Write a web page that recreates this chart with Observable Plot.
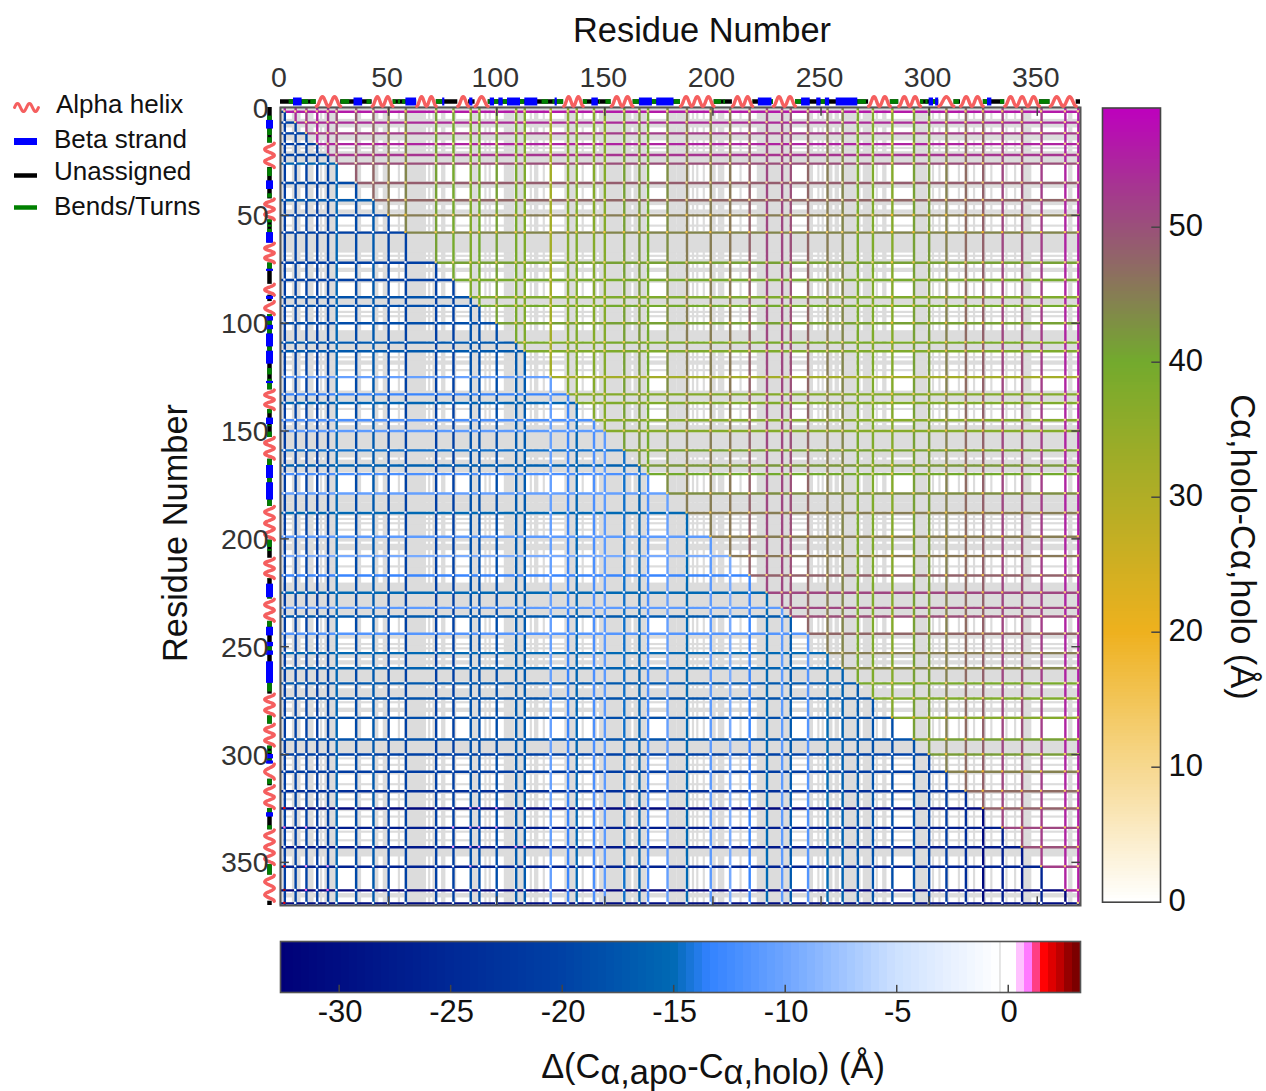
<!DOCTYPE html>
<html>
<head>
<meta charset="utf-8">
<script src="https://cdn.jsdelivr.net/npm/d3@7"></script>
<script src="https://cdn.jsdelivr.net/npm/@observablehq/plot@0.6"></script>
<style>
html,body{margin:0;padding:0;background:#fff;}
#root{position:relative;width:1266px;height:1091px;overflow:hidden;font-family:"Liberation Sans",Arial,sans-serif;color:#111;}
#root>div,#root>svg{position:absolute;}
.t{white-space:nowrap;line-height:1;}
sub{font-size:1em;vertical-align:baseline;position:relative;top:0.16em;line-height:0;}
.lg{font-size:26px;}
</style>
</head>
<body>
<div id="root"></div>
<script>
// ---------- data ----------
const keyResidues = [2,7,12,17,22,26,35,43,50,58,72,80,88,92,100,109,113,125,133,137,145,150,159,166,170,179,188,199,208,217,225,232,236,244,253,260,267,274,283,293,300,308,317,325,334,343,352,363,369];
const holoValues  = [56,54,52,55,53,50,48.5,47.5,45,44,41,39.5,38,40,41,39,38,32,37,38,37,37,41,42,40,43,45,45,45.5,48,51,51,50,47.5,45,44,39,38,37,41,41.5,44.5,47,48,51,50,52,55,56];
const deltaValues = [-21,-20,-20,-21,-20,-15.5,-19,-17,-20,-20,-20.5,-20.5,-18,-18.5,-18.5,-17,-17,-10.5,-13,-15.5,-12,-11,-14.5,-16,-12,-10.5,-15,-11,-9.5,-13,-15,-11,-17,-11.5,-15,-16,-17,-18,-18.5,-18,-20,-21,-24,-31,-27,-28,-26,-32,-30];
const crossValues = [10,10,12,10,10,6,5,6,16,18,12,10,14,14,15,14,14,8,12,12,8,14,15,10,10,12,14,16,14,12,12,10,10,8,8,8,8,10,20,18,15,18,16,20,18,18,14,12,12];
// positive Δ at a few crossings: row, column, value
const positiveCrossings = [[325,2,1.7],[325,88,0.7],[325,92,0.7],[325,100,0.7],[334,2,1],[334,12,0.7],[334,80,0.7],[334,88,0.7],[334,92,0.7],[334,100,0.7],[343,80,0.7],[343,88,0.7],[343,92,0.7],[343,109,0.7],[343,113,0.7],[352,2,1.7],[352,12,0.7],[352,22,0.7],[352,88,0.7],[363,2,2.6],[363,12,1],[363,22,1],[369,2,1.9]];
// residues with a grey band, start and end
const greyBands = [[0,1],[6,9],[13,15],[19,19],[21,26],[35,37],[43,45],[48,49],[55,55],[58,67],[69,69],[71,72],[75,76],[80,81],[89,91],[95,95],[97,97],[104,108],[110,113],[116,116],[118,119],[122,122],[132,133],[134,136],[140,140],[145,146],[148,149],[150,158],[160,162],[164,165],[167,169],[180,183],[184,187],[189,189],[191,191],[193,193],[196,196],[200,201],[203,205],[208,208],[213,213],[221,224],[225,231],[232,235],[245,246],[249,249],[251,251],[254,255],[257,258],[260,266],[268,268],[270,273],[276,276],[279,280],[283,283],[294,299],[302,302],[305,305],[309,309],[314,314],[318,318],[321,321],[326,326],[329,329],[336,336],[340,340],[344,347],[365,366]];
// secondary structure, start and end residue
const helices = [[16.6,27.8],[42.4,52],[63,72],[82,87],[90,96],[131,140],[153,163],[185,200.5],[209,218.4],[228,238.2],[272,282],[286,296],[304.5,311.4],[314.5,325],[335,351],[356,368]];
const strands = [[6,10],[34,38],[58,63],[75,76],[87.5,89],[97,99],[101,103],[105,111],[113,119],[127,128],[144,147],[166,172],[174,182],[221,227.3],[241,245],[248,250],[252,254],[257,267],[300,302],[303,304.5],[327,329]];
const turns = [[4,6],[10,13],[14,16.6],[28,32],[40,42],[52,53.5],[54.5,55.5],[56.5,58],[72,75],[96,97],[99,101],[103,105],[111,113],[121,124],[126,127],[128,131],[140,142],[147.5,148],[150.5,153],[163,166],[172,174],[182,185],[200.5,204],[205,205.8],[218.4,218.6],[227.3,228],[238.2,241],[250,252],[267,271],[282,286],[296,297.5],[298.5,299.5],[302,303],[311.4,314],[325,327],[333,335],[351,356]];
const wholeChain = [[0,370]];
const residueTicks = [0,50,100,150,200,250,300,350];
const holoTicks = [0,10,20,30,40,50];
const deltaTicks = [-30,-25,-20,-15,-10,-5,0];
const holoStops = [0,20,40,58.83];
const holoColors = ["#ffffff","#eeb11e","#73aa2d","#be00be"];
const deltaStops = [-32.63,-25,-20,-15,-13.4,-10,-5,-0.36,0.36,0.54,0.9,1.26,1.62,2.0,2.34,2.7,3.24];
const deltaColors = ["#000078","#002896","#0041a5","#0069b4","#3282ff","#6ea5ff","#cde1ff","#ffffff","#ffffff","#ffbeff","#ff78ff","#ff3c82","#ff0000","#dc0000","#be0000","#960000","#6e0000"];
const legendItems = ["Alpha helix","Beta strand","Unassigned","Bends/Turns"];

// ---------- helpers ----------
const FONT = '"Liberation Sans",Arial,sans-serif';
const holoColor = d3.scaleLinear(holoStops, holoColors).clamp(true);
const deltaColor = d3.scaleLinear(deltaStops, deltaColors).clamp(true);
const keyed = keyResidues.map((k,i)=>({k,holo:holoValues[i],delta:deltaValues[i],cross:crossValues[i]}));
const crossings = keyed.flatMap(a=>keyed.map(b=>({row:a.k,col:b.k,a,b})));
const posMap = new Map(positiveCrossings.map(([r,c,v])=>[r+"_"+c,v]));
function crossingFill(d){
  if(d.col>=d.row) return holoColor((d.a.cross+d.b.cross)/2);
  const v = posMap.get(d.row+"_"+d.col);
  return v!==undefined ? deltaColor(v) : "#f6f8ff";
}
// drawn wave of a helix segment, in residue units
const wavePts = ([a,b]) => { const o=[]; const n=Math.max(1,Math.round((b-a)/5.5))*2; for(let t=0;t<=n*6;t++){o.push({r:a+(b-a)*t/(n*6),w:Math.cos(Math.PI*t/6)});} return o; };
const topWaves = helices.flatMap((h,i)=>wavePts(h).map(p=>({...p,i})));

const TOPY=-2.78, LEFTX=-5.09, WY=2.2, WX=2.2;
const HELIX="#f55f5f";
const tickC="#444";
const LW=2.4;

const main = Plot.plot({
  width:1266,height:1091,marginLeft:280,marginRight:186,marginTop:107,marginBottom:186,
  style:{background:"transparent",fontFamily:FONT},
  x:{domain:[0,370]},y:{domain:[0,370],reverse:true},
  marks:[
    // grey bands
    Plot.rect(greyBands,{x1:d=>d[0]-0.5,x2:d=>d[1]+0.5,y1:()=>0,y2:()=>370,fill:"#dcdcdc"}),
    Plot.rect(greyBands,{y1:d=>d[0]-0.5,y2:d=>d[1]+0.5,x1:()=>0,x2:()=>370,fill:"#dcdcdc"}),
    // coloured lines, row and column of each key residue
    Plot.ruleY(keyed,{y:"k",x1:()=>0,x2:"k",stroke:d=>deltaColor(d.delta),strokeWidth:LW}),
    Plot.ruleY(keyed,{y:"k",x1:"k",x2:()=>370,stroke:d=>holoColor(d.holo),strokeWidth:LW}),
    Plot.ruleX(keyed,{x:"k",y1:()=>0,y2:"k",stroke:d=>holoColor(d.holo),strokeWidth:LW}),
    Plot.ruleX(keyed,{x:"k",y1:"k",y2:()=>370,stroke:d=>deltaColor(d.delta),strokeWidth:LW}),
    Plot.rect(crossings,{x1:d=>d.col-0.5,x2:d=>d.col+0.5,y1:d=>d.row-0.5,y2:d=>d.row+0.5,fill:crossingFill}),
    // frame and inner ticks
    Plot.frame({stroke:"#555",strokeWidth:2}),
    Plot.ruleX(residueTicks.slice(1),{x:d=>d,y1:()=>0,y2:()=>4.1,stroke:tickC,strokeWidth:1.5}),
    Plot.ruleX(residueTicks.slice(1),{x:d=>d,y1:()=>366,y2:()=>370,stroke:tickC,strokeWidth:1.5}),
    Plot.ruleY(residueTicks.slice(1),{y:d=>d,x1:()=>0,x2:()=>4.1,stroke:tickC,strokeWidth:1.5}),
    Plot.ruleY(residueTicks.slice(1),{y:d=>d,x1:()=>366,x2:()=>370,stroke:tickC,strokeWidth:1.5}),
    // secondary structure along the top
    Plot.ruleY(wholeChain,{y:()=>TOPY,x1:d=>d[0],x2:d=>d[1],stroke:"#000",strokeWidth:4.5}),
    Plot.ruleY(turns,{y:()=>TOPY,x1:d=>d[0],x2:d=>d[1],stroke:"#008000",strokeWidth:4.5}),
    Plot.ruleY(strands,{y:()=>TOPY,x1:d=>d[0],x2:d=>d[1],stroke:"#0000ff",strokeWidth:8}),
    Plot.ruleY(helices,{y:()=>TOPY,x1:d=>d[0],x2:d=>d[1],stroke:"#fff",strokeWidth:8}),
    Plot.line(topWaves,{x:"r",y:d=>TOPY+WY*d.w,z:"i",stroke:HELIX,strokeWidth:3.4,curve:"monotone-x"}),
    // secondary structure along the left
    Plot.ruleX(wholeChain,{x:()=>LEFTX,y1:d=>d[0],y2:d=>d[1],stroke:"#000",strokeWidth:4.5}),
    Plot.ruleX(turns,{x:()=>LEFTX,y1:d=>d[0],y2:d=>d[1],stroke:"#008000",strokeWidth:4.5}),
    Plot.ruleX(strands,{x:()=>LEFTX,y1:d=>d[0],y2:d=>d[1],stroke:"#0000ff",strokeWidth:7}),
    Plot.ruleX(helices,{x:()=>LEFTX,y1:d=>d[0],y2:d=>d[1],stroke:"#fff",strokeWidth:8}),
    Plot.line(topWaves,{y:"r",x:d=>LEFTX+WX*d.w,z:"i",stroke:HELIX,strokeWidth:3.4,curve:"monotone-y"}),
    // axes
    Plot.axisX(residueTicks,{anchor:"top",tickSize:0,tickPadding:21,dx:-1.5,fontSize:28.5,fill:"#333",label:null,tickFormat:d=>String(d)}),
    Plot.axisY(residueTicks,{anchor:"left",tickSize:0,tickPadding:12,dy:1,fontSize:28.5,fill:"#333",label:null,tickFormat:d=>String(d)})
  ]
});

// right colour bar
const holoBins = d3.range(0,58.83,0.25);
const holoBar = Plot.plot({
  width:176,height:840,marginLeft:12,marginRight:106,marginTop:12.5,marginBottom:33.3,
  style:{background:"transparent",fontFamily:FONT},
  x:{domain:[0,1],axis:null},y:{domain:[0,58.83],axis:null},
  color:{type:"linear",domain:holoStops,range:holoColors,interpolate:"rgb"},
  marks:[
    Plot.rect(holoBins,{x1:()=>0,x2:()=>1,y1:d=>d,y2:d=>Math.min(d+0.3,58.83),fill:d=>d+0.125,shapeRendering:"crispEdges"}),
    Plot.frame({stroke:"#444",strokeWidth:1.6}),
    Plot.ruleY(holoTicks.slice(1),{y:d=>d,x1:()=>0.85,x2:()=>1,stroke:"#444",strokeWidth:1.5}),
    Plot.axisY(holoTicks,{anchor:"right",tickSize:0,tickPadding:8,dy:-1.5,fontSize:31,fill:"#111",label:null,tickFormat:d=>String(d)})
  ]
});

// bottom colour bar
const deltaEdges = d3.range(-91,9).map(n=>0.36*n-0.01);
const deltaBar = Plot.plot({
  width:840,height:120,marginLeft:20,marginRight:20,marginTop:11,marginBottom:58,
  style:{background:"transparent",fontFamily:FONT},
  x:{domain:[-32.63,3.24],axis:null},y:{domain:[0,1],axis:null},
  color:{type:"linear",domain:deltaStops,range:deltaColors,interpolate:"rgb"},
  marks:[
    Plot.rect(deltaEdges,{x1:d=>Math.max(d,-32.63),x2:d=>Math.min(d+0.37,3.24),y1:()=>0,y2:()=>1,fill:d=>d+0.18,shapeRendering:"crispEdges"}),
    Plot.ruleX([-0.37],{x:d=>d,y1:()=>0,y2:()=>1,stroke:"#ccc",strokeWidth:1}),
    Plot.frame({stroke:"#555",strokeWidth:1.6}),
    Plot.ruleX(deltaTicks,{x:d=>d,y1:()=>0,y2:()=>0.14,stroke:"#444",strokeWidth:1.5}),
    Plot.axisX(deltaTicks,{anchor:"bottom",tickSize:0,tickPadding:7,dx:1,fontSize:31,fill:"#111",label:null,tickFormat:d=>String(d)})
  ]
});

// ---------- page ----------
const root=document.getElementById("root");
root.appendChild(main); main.style.left="0";main.style.top="0";
function place(node,l,t){const w=document.createElement("div");w.style.left=l+"px";w.style.top=t+"px";w.appendChild(node);root.appendChild(w);node.style.display="block";}
place(holoBar,1090,95);
place(deltaBar,260,930);
function text(html,cx,cy,size,rot){const d=document.createElement("div");d.className="t";d.innerHTML=html;d.style.left=cx+"px";d.style.top=cy+"px";d.style.fontSize=size+"px";d.style.transform=`translate(-50%,-50%) rotate(${rot||0}deg)`;root.appendChild(d);}
text("Residue Number",702,30,34.4);
text("Residue Number",175,533,34.4,-90);
text("Cα,holo-Cα,holo (Å)",1243,547,34.4,90);
text("Δ(C<sub>α,apo</sub>-C<sub>α,holo</sub>) (Å)",713,1066,34.4);

// legend
const legendY=[104,139,171,206], legendTextX=[56,54,54,54];
legendItems.forEach((s,i)=>{const d=document.createElement("div");d.className="t lg";d.textContent=s;d.style.left=legendTextX[i]+"px";d.style.top=(legendY[i]-13)+"px";root.appendChild(d);});
const legendWave = d3.range(0,24.5,0.5).map(x=>({x,w:Math.sin(x/24*4*Math.PI)}));
const legend = Plot.plot({
  width:50,height:130,margin:0,
  style:{background:"transparent"},
  x:{type:"identity",axis:null},y:{type:"identity",axis:null},
  marks:[
    Plot.line(legendWave,{x:d=>14+d.x,y:d=>17-4*d.w,stroke:HELIX,strokeWidth:3,curve:"monotone-x"}),
    Plot.ruleY([51],{y:d=>d,x1:()=>14,x2:()=>37,stroke:"#0000ff",strokeWidth:7}),
    Plot.ruleY([85],{y:d=>d,x1:()=>14,x2:()=>37,stroke:"#000",strokeWidth:4.5}),
    Plot.ruleY([117],{y:d=>d,x1:()=>14,x2:()=>37,stroke:"#008000",strokeWidth:4.5})
  ]
});
place(legend,0,90);
</script>
</body>
</html>
